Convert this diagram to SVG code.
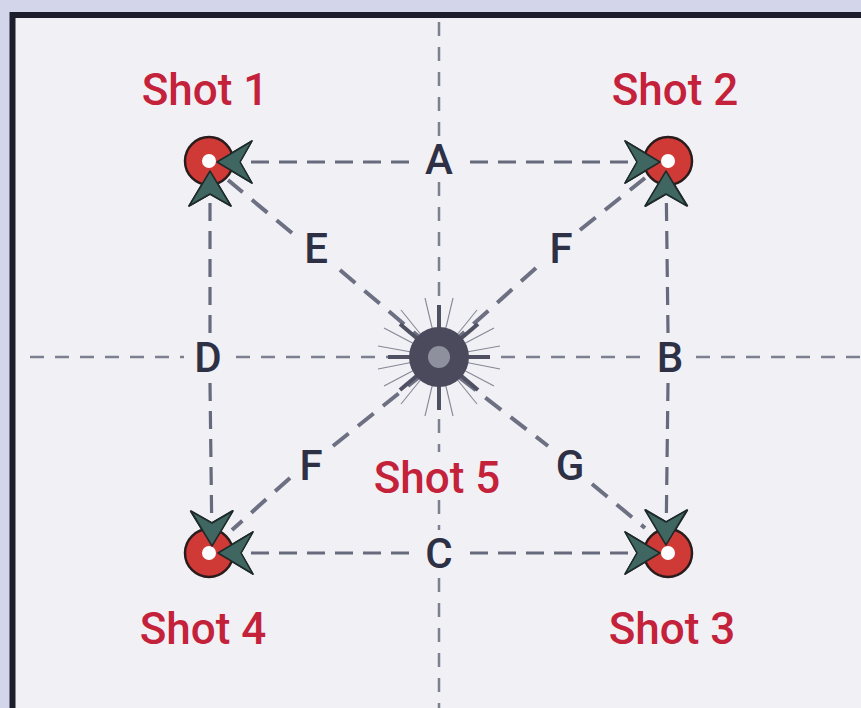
<svg xmlns="http://www.w3.org/2000/svg" width="861" height="708" viewBox="0 0 861 708">
<defs>
<style>
.axis{stroke:#7d8091;stroke-width:2.5;stroke-dasharray:14 11;fill:none}
.edge{stroke:#676a7c;stroke-width:3.2;stroke-dasharray:18 10;fill:none}
.diag{stroke:#6d7082;stroke-width:4;stroke-dasharray:20 12;fill:none}
.shot{fill:#d03a36;stroke:#2a1c1c;stroke-width:2.5}
.dot{fill:#ffffff}
.lbl{font-family:Roboto,"Liberation Sans",Arial,sans-serif;font-weight:500;font-size:42px;fill:#2e3045;text-anchor:middle}
.name{font-family:Roboto,"Liberation Sans",Arial,sans-serif;font-weight:500;font-size:44px;fill:#c4223a;text-anchor:middle}
.ray{stroke:#5a5c6e;stroke-width:1.1;opacity:0.7}
.stub{stroke:#4f5163;stroke-width:4}
</style>
<marker id="ah" viewBox="-37 -23 40 46" refX="0" refY="0" markerWidth="40" markerHeight="46" markerUnits="userSpaceOnUse" orient="auto-start-reverse">
<path d="M0,0 L-35,-21 L-23,0 L-35,21 Z" fill="#3f6661" stroke="#1e2a2a" stroke-width="1.5" stroke-linejoin="round"/>
</marker>
</defs>
<rect x="0" y="0" width="861" height="708" fill="#d3d6ea"/>
<rect x="12.5" y="15" width="870" height="720" fill="#f1f0f5" stroke="#1c1f2b" stroke-width="6"/>

<g id="connectors">
<line class="axis" x1="439" y1="22" x2="439" y2="138"/>
<line class="axis" x1="439" y1="182" x2="439" y2="322"/>
<line class="axis" x1="439" y1="394" x2="439" y2="452"/>
<line class="axis" x1="439" y1="500" x2="439" y2="530"/>
<line class="axis" x1="439" y1="578" x2="439" y2="708"/>
<line class="axis" x1="30" y1="357" x2="184" y2="357"/>
<line class="axis" x1="236" y1="357" x2="402" y2="357"/>
<line class="axis" x1="476" y1="357" x2="648" y2="357"/>
<line class="axis" x1="696" y1="357" x2="861" y2="357"/>
<line class="edge" x1="409" y1="162" x2="217" y2="162" marker-end="url(#ah)"/>
<line class="edge" x1="470" y1="162" x2="660" y2="162" marker-end="url(#ah)"/>
<line class="edge" x1="409" y1="553" x2="218" y2="553" marker-end="url(#ah)"/>
<line class="edge" x1="470" y1="553" x2="660" y2="553" marker-end="url(#ah)"/>
<line class="edge" x1="210" y1="333" x2="210" y2="171" marker-end="url(#ah)"/>
<line class="edge" x1="210" y1="383" x2="212" y2="546" marker-end="url(#ah)"/>
<line class="edge" x1="668" y1="333" x2="666" y2="171" marker-end="url(#ah)"/>
<line class="edge" x1="668" y1="383" x2="666" y2="545" marker-end="url(#ah)"/>
<line class="diag" x1="292" y1="233" x2="228" y2="180"/>
<line class="diag" x1="340" y1="270" x2="418" y2="336"/>
<line class="diag" x1="536" y1="268" x2="460" y2="336"/>
<line class="diag" x1="580" y1="230" x2="645" y2="178"/>
<line class="diag" x1="290" y1="478" x2="232" y2="530"/>
<line class="diag" x1="333" y1="446" x2="418" y2="378"/>
<line class="diag" x1="460" y1="378" x2="548" y2="446"/>
<line class="diag" x1="592" y1="484" x2="645" y2="528"/>
</g>

<g id="hub">
<g class="ray">
<line x1="439" y1="357" x2="500" y2="346"/>
<line x1="439" y1="357" x2="500" y2="369"/>
<line x1="439" y1="357" x2="378" y2="346"/>
<line x1="439" y1="357" x2="378" y2="369"/>
<line x1="439" y1="357" x2="453" y2="298"/>
<line x1="439" y1="357" x2="425" y2="298"/>
<line x1="439" y1="357" x2="453" y2="416"/>
<line x1="439" y1="357" x2="425" y2="416"/>
<line x1="439" y1="357" x2="477" y2="310"/>
<line x1="439" y1="357" x2="401" y2="310"/>
<line x1="439" y1="357" x2="477" y2="404"/>
<line x1="439" y1="357" x2="401" y2="404"/>
<line x1="439" y1="357" x2="494" y2="328"/>
<line x1="439" y1="357" x2="384" y2="328"/>
<line x1="439" y1="357" x2="494" y2="386"/>
<line x1="439" y1="357" x2="384" y2="386"/>
</g>
<g class="stub">
<line x1="439" y1="357" x2="439" y2="305"/>
<line x1="439" y1="357" x2="439" y2="410"/>
<line x1="439" y1="357" x2="388" y2="357"/>
<line x1="439" y1="357" x2="490" y2="357"/>
<line x1="439" y1="357" x2="400" y2="324"/>
<line x1="439" y1="357" x2="478" y2="324"/>
<line x1="439" y1="357" x2="400" y2="390"/>
<line x1="439" y1="357" x2="478" y2="390"/>
</g>
<circle cx="439" cy="357" r="30" fill="#4a4a5c"/>
<circle cx="439" cy="357" r="11" fill="#8f909e"/>
</g>

<g id="shot1"><circle class="shot" cx="209" cy="161" r="24"/><circle class="dot" cx="209" cy="161" r="7"/></g>
<g id="shot2"><circle class="shot" cx="668" cy="161" r="24"/><circle class="dot" cx="668" cy="161" r="7"/></g>
<g id="shot3"><circle class="shot" cx="668" cy="553" r="24"/><circle class="dot" cx="668" cy="553" r="7"/></g>
<g id="shot4"><circle class="shot" cx="209" cy="553" r="24"/><circle class="dot" cx="209" cy="553" r="7"/></g>

<g id="arrowheads-overlay">
<line x1="240" y1="162" x2="217" y2="162" stroke="none" marker-end="url(#ah)"/>
<line x1="637" y1="162" x2="660" y2="162" stroke="none" marker-end="url(#ah)"/>
<line x1="240" y1="553" x2="218" y2="553" stroke="none" marker-end="url(#ah)"/>
<line x1="637" y1="553" x2="660" y2="553" stroke="none" marker-end="url(#ah)"/>
<line x1="210" y1="194" x2="210" y2="171" stroke="none" marker-end="url(#ah)"/>
<line x1="212" y1="523" x2="212" y2="546" stroke="none" marker-end="url(#ah)"/>
<line x1="666" y1="194" x2="666" y2="171" stroke="none" marker-end="url(#ah)"/>
<line x1="666" y1="522" x2="666" y2="545" stroke="none" marker-end="url(#ah)"/>
</g>

<g id="labels">
<text class="lbl" x="439" y="174">A</text>
<text class="lbl" x="670" y="372">B</text>
<text class="lbl" x="439" y="568">C</text>
<text class="lbl" x="208" y="372">D</text>
<text class="lbl" x="316" y="263">E</text>
<text class="lbl" x="561" y="263">F</text>
<text class="lbl" x="311" y="480">F</text>
<text class="lbl" x="570" y="480">G</text>
<text class="name" x="205" y="105">Shot 1</text>
<text class="name" x="675" y="105">Shot 2</text>
<text class="name" x="672" y="644">Shot 3</text>
<text class="name" x="203" y="644">Shot 4</text>
<text class="name" x="437" y="493">Shot 5</text>
</g>
</svg>
